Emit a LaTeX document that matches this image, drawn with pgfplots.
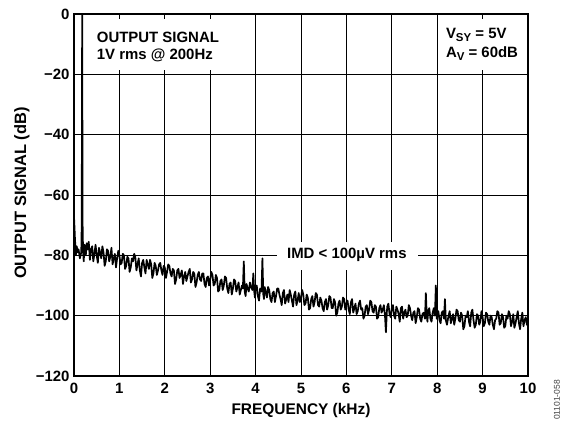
\documentclass[border=0pt]{standalone}
\usepackage{pgfplots}
\pgfplotsset{compat=1.18}
\usepackage{fontspec}
\setmainfont{Liberation Sans}

\pgfplotstableread{
f db
0.00 -67
0.02 -74
0.04 -80
0.06 -77
0.08 -79
0.10 -78
0.13 -81
0.16 -79
0.17 -70
0.18 0
0.19 -70
0.20 -79
0.215 -82
0.23 -76.5
0.245 -79
0.26 -80
0.28 -76
0.30 -78
0.325 -75.5
0.35 -81.5
0.375 -78
0.40 -77
0.425 -82
0.45 -79.5
0.475 -76.5
0.50 -80
0.525 -82.5
0.55 -77.5
0.575 -79
0.60 -81
0.625 -77
0.65 -79
0.675 -83.5
0.70 -82
0.725 -78
0.75 -78.5
0.775 -82
0.80 -80.5
0.825 -77.5
0.85 -83
0.875 -81
0.90 -79.5
0.925 -84
0.95 -81
0.975 -78.5
1.00 -80
1.025 -83
1.05 -82.5
1.075 -79.5
1.10 -80
1.125 -84.5
1.15 -83.5
1.175 -80.5
1.20 -81
1.225 -85.5
1.25 -84
1.275 -81
1.30 -82
1.325 -79.5
1.35 -80.5
1.375 -85
1.40 -83
1.425 -81
1.45 -85
1.475 -87
1.50 -82.5
1.525 -81.5
1.55 -84
1.575 -86
1.60 -81.5
1.625 -83
1.65 -84.5
1.675 -81.5
1.70 -83
1.725 -87.5
1.75 -86
1.775 -82.5
1.80 -83.5
1.825 -86.5
1.85 -85
1.875 -83
1.90 -82.5
1.925 -85
1.95 -86.5
1.975 -83.5
2.00 -84
2.025 -87.5
2.05 -85.5
2.075 -83
2.10 -83.5
2.125 -86
2.15 -87
2.175 -84.5
2.20 -85
2.225 -89.5
2.25 -88
2.275 -85
2.30 -84.5
2.325 -87.5
2.35 -86.5
2.375 -85
2.40 -89.5
2.425 -87
2.45 -85.5
2.475 -88.5
2.50 -87
2.525 -85.5
2.55 -84.5
2.575 -89
2.60 -88
2.625 -85.5
2.65 -86
2.675 -90.5
2.70 -89
2.725 -86.5
2.75 -85.5
2.775 -88
2.80 -88.5
2.825 -86
2.85 -86
2.875 -89.5
2.90 -90.5
2.925 -87.5
2.95 -87
2.975 -90
3.00 -88
3.025 -85.5
3.05 -86.5
3.075 -90
3.10 -89.5
3.125 -86.5
3.15 -87.5
3.175 -92
3.20 -91.5
3.225 -88.5
3.25 -88
3.275 -91.5
3.30 -90
3.325 -87
3.35 -87.5
3.375 -91
3.40 -92.5
3.425 -89.5
3.45 -89
3.475 -93
3.50 -91
3.525 -88
3.55 -88.5
3.575 -92
3.60 -90.5
3.625 -89
3.65 -93
3.675 -91.5
3.70 -90
3.72 -91
3.74 -82
3.76 -92
3.78 -93.5
3.80 -89.5
3.825 -91
3.85 -92
3.875 -89
3.90 -90.5
3.93 -91.5
3.95 -86
3.97 -92
3.985 -94
4.00 -91
4.025 -90
4.05 -93.5
4.075 -95
4.10 -91
4.13 -92
4.15 -81
4.17 -93
4.185 -94.5
4.20 -90.5
4.225 -92
4.25 -94
4.275 -90.5
4.30 -91.5
4.325 -94.5
4.35 -95.5
4.375 -92.5
4.40 -92
4.425 -95.5
4.45 -93.5
4.475 -91
4.50 -91
4.525 -93
4.55 -94.5
4.575 -96.5
4.60 -92.5
4.625 -91.5
4.65 -96
4.675 -94.5
4.70 -93
4.725 -95.5
4.75 -91.5
4.775 -93
4.80 -95
4.825 -97
4.85 -93
4.875 -92
4.90 -96.5
4.925 -95
4.95 -92.5
4.975 -95.5
5.00 -94
5.025 -91.5
5.05 -93
5.075 -96.5
5.10 -96
5.125 -93
5.15 -94
5.175 -98
5.20 -97.5
5.225 -94.5
5.25 -93.5
5.275 -97
5.30 -95.5
5.325 -92.5
5.35 -93
5.375 -96.5
5.40 -97
5.425 -94
5.45 -95
5.475 -97.5
5.50 -98.5
5.525 -95.5
5.55 -94.5
5.575 -98
5.60 -96.5
5.625 -93.5
5.65 -94
5.675 -97.5
5.70 -97.5
5.725 -94.5
5.75 -95.5
5.775 -100
5.80 -99
5.825 -96
5.85 -95
5.875 -98
5.90 -97
5.925 -94
5.95 -94.5
5.975 -98
6.00 -96
6.025 -95
6.05 -98
6.075 -99.5
6.10 -95.5
6.125 -94.5
6.15 -99
6.175 -97.5
6.20 -96
6.225 -99.5
6.25 -98.5
6.275 -96
6.30 -95
6.325 -98
6.35 -97.5
6.375 -101
6.40 -100
6.425 -97
6.45 -96.5
6.475 -99.5
6.50 -98
6.525 -95
6.55 -95.5
6.575 -98.5
6.60 -99
6.625 -96.5
6.65 -97
6.675 -101
6.70 -100.5
6.725 -97.5
6.75 -96.5
6.775 -99
6.80 -98
6.825 -96.5
6.85 -100
6.87 -105.5
6.89 -99
6.90 -97
6.925 -96
6.95 -99.5
6.975 -100.5
7.00 -97.5
7.025 -96.5
7.05 -100
7.075 -101
7.10 -97
7.125 -98
7.15 -99.5
7.175 -102
7.20 -97.5
7.225 -97
7.25 -101
7.275 -99
7.30 -98
7.325 -100.5
7.35 -100
7.375 -96.5
7.40 -97.5
7.425 -100
7.45 -101.5
7.475 -99
7.50 -98.5
7.525 -102.5
7.55 -100.5
7.575 -97.5
7.60 -98
7.625 -101
7.65 -102
7.675 -99.5
7.70 -99
7.73 -101
7.75 -92.5
7.77 -100
7.785 -102
7.80 -98.5
7.825 -97.5
7.85 -101
7.875 -102
7.90 -99
7.925 -97.5
7.95 -100
7.97 -90
7.99 -101
8.00 -99.5
8.025 -98.5
8.05 -101.5
8.075 -102.5
8.10 -99
8.125 -98.5
8.15 -101
8.17 -94.5
8.19 -101.5
8.215 -103
8.25 -100
8.275 -98.5
8.30 -102.5
8.325 -101
8.35 -99.5
8.375 -103
8.40 -101
8.425 -98
8.45 -98.5
8.475 -101.5
8.50 -102
8.525 -99
8.55 -100
8.575 -104.5
8.60 -103.5
8.625 -100
8.65 -100.5
8.675 -98.5
8.70 -102
8.725 -103.5
8.75 -99
8.775 -98
8.80 -101.5
8.825 -104
8.85 -103
8.875 -99.5
8.90 -100
8.925 -103
8.95 -102
8.975 -98.5
9.00 -100.5
9.025 -103.5
9.05 -102.5
9.075 -99
9.10 -99.5
9.125 -102
9.15 -103
9.175 -100
9.20 -100.5
9.225 -103
9.25 -104.5
9.275 -101.5
9.30 -101
9.325 -98.5
9.35 -99
9.375 -103
9.40 -102.5
9.425 -99.5
9.45 -100.5
9.475 -104
9.50 -103.5
9.525 -100
9.55 -101
9.575 -98.5
9.60 -99.5
9.625 -103.5
9.65 -102
9.675 -99.5
9.70 -104
9.725 -102.5
9.75 -100.5
9.775 -98.5
9.80 -102.5
9.825 -104.5
9.85 -101
9.875 -99
9.90 -103.5
9.925 -101.5
9.95 -100.5
9.975 -103
10.00 -102.5
}\spectrum

\newcommand{\sub}[1]{\raisebox{-3bp}{\fontsize{11.5}{12}\selectfont #1}}

\begin{document}
\begin{tikzpicture}
\useasboundingbox (-74bp,-45bp) rectangle (499bp,376bp);
\begin{axis}[
    at={(0,0)}, anchor=south west,
    scale only axis,
    width=454bp, height=362bp,
    xmin=0, xmax=10, ymin=-120, ymax=0,
    xtick={0,1,...,10},
    ytick={-120,-100,-80,-60,-40,-20,0},
    yticklabels={−120,−100,−80,−60,−40,−20,0},
    major tick length=0pt,
    grid=major,
    major grid style={black, line width=0.9bp},
    axis line style={line width=2bp},
    tick label style={font=\fontsize{15}{17}\selectfont\bfseries},
    /pgf/number format/assume math mode=true,
    xticklabel style={yshift=-3.5bp},
    yticklabel style={xshift=-1bp},
    clip=true,
]
\addplot[black, line width=1.7bp, line join=round] table[x=f, y=db] {\spectrum};

% white label boxes over the grid
\fill[white] (axis cs:0.25,-1.5) rectangle (axis cs:3.4,-18.5);
\fill[white] (axis cs:8.1,-1.5) rectangle (axis cs:9.95,-18.5);
\fill[white] (axis cs:4.47,-75.6) rectangle (axis cs:7.58,-84.9);

\begin{scope}[every node/.style={inner sep=0pt, font=\fontsize{15}{17}\selectfont\bfseries}]
\node[anchor=base west] at (axis cs:0.5,-9.3) {OUTPUT SIGNAL};
\node[anchor=base west] at (axis cs:0.5,-15.2) {1V rms @ 200Hz};
\node[anchor=base west] at (axis cs:8.19,-8.2) {V\sub{SY} = 5V};
\node[anchor=base west] at (axis cs:8.19,-14.4) {A\sub{V} = 60dB};
\node[anchor=center] at (axis cs:6.01,-80) {IMD < 100µV rms};
\end{scope}
\end{axis}
\node[anchor=center, font=\fontsize{15.5}{17}\selectfont\bfseries] at (227bp,-35bp) {FREQUENCY (kHz)};
\node[anchor=center, rotate=90, font=\fontsize{16.5}{18}\selectfont\bfseries] at (-52bp,183bp) {OUTPUT SIGNAL (dB)};
\node[rotate=90, anchor=center, inner sep=0pt, font=\fontsize{8.5}{9}\selectfont, text=black!75]
  at (483bp,-24bp) {01101-058};
\end{tikzpicture}
\end{document}
